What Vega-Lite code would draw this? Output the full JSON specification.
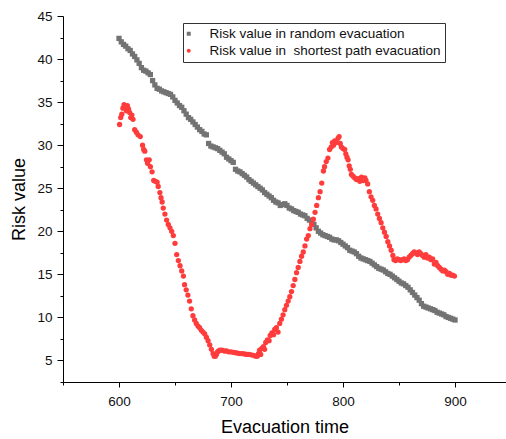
{
  "$schema": "https://vega.github.io/schema/vega-lite/v6.json",
  "autosize": "none",
  "width": 443,
  "height": 366,
  "padding": {"left": 63, "top": 16, "right": 0, "bottom": 57},
  "background": "white",
  "config": {"view": {"stroke": null}, "font": "Liberation Sans"},
  "data": {"values": [
    {"t":600,"v":42.4,"s":"random"},{"t":602,"v":42.0,"s":"random"},{"t":604,"v":41.7,"s":"random"},{"t":606,"v":41.5,"s":"random"},{"t":608,"v":41.2,"s":"random"},{"t":610,"v":41.0,"s":"random"},{"t":612,"v":40.6,"s":"random"},{"t":614,"v":40.3,"s":"random"},{"t":616,"v":39.9,"s":"random"},{"t":618,"v":39.5,"s":"random"},{"t":620,"v":39.0,"s":"random"},{"t":622,"v":38.7,"s":"random"},{"t":624,"v":38.6,"s":"random"},{"t":626,"v":38.4,"s":"random"},{"t":628,"v":38.2,"s":"random"},{"t":630,"v":37.5,"s":"random"},{"t":632,"v":37.0,"s":"random"},{"t":634,"v":36.6,"s":"random"},{"t":636,"v":36.5,"s":"random"},{"t":638,"v":36.3,"s":"random"},{"t":640,"v":36.2,"s":"random"},{"t":642,"v":36.1,"s":"random"},{"t":644,"v":36.0,"s":"random"},{"t":646,"v":35.9,"s":"random"},{"t":648,"v":35.6,"s":"random"},{"t":650,"v":35.2,"s":"random"},{"t":652,"v":34.9,"s":"random"},{"t":654,"v":34.6,"s":"random"},{"t":656,"v":34.4,"s":"random"},{"t":658,"v":34.0,"s":"random"},{"t":660,"v":33.6,"s":"random"},{"t":662,"v":33.2,"s":"random"},{"t":664,"v":33.0,"s":"random"},{"t":666,"v":32.7,"s":"random"},{"t":668,"v":32.4,"s":"random"},{"t":670,"v":32.1,"s":"random"},{"t":672,"v":31.8,"s":"random"},{"t":674,"v":31.6,"s":"random"},{"t":676,"v":31.3,"s":"random"},{"t":678,"v":31.2,"s":"random"},{"t":680,"v":30.2,"s":"random"},{"t":682,"v":29.9,"s":"random"},{"t":684,"v":29.8,"s":"random"},{"t":686,"v":29.7,"s":"random"},{"t":688,"v":29.6,"s":"random"},{"t":690,"v":29.4,"s":"random"},{"t":692,"v":29.2,"s":"random"},{"t":694,"v":29.0,"s":"random"},{"t":696,"v":28.6,"s":"random"},{"t":698,"v":28.4,"s":"random"},{"t":700,"v":28.2,"s":"random"},{"t":702,"v":28.0,"s":"random"},{"t":704,"v":27.2,"s":"random"},{"t":706,"v":27.0,"s":"random"},{"t":708,"v":26.9,"s":"random"},{"t":710,"v":26.7,"s":"random"},{"t":712,"v":26.5,"s":"random"},{"t":714,"v":26.3,"s":"random"},{"t":716,"v":26.0,"s":"random"},{"t":718,"v":25.8,"s":"random"},{"t":720,"v":25.6,"s":"random"},{"t":722,"v":25.4,"s":"random"},{"t":724,"v":25.2,"s":"random"},{"t":726,"v":25.0,"s":"random"},{"t":728,"v":24.8,"s":"random"},{"t":730,"v":24.5,"s":"random"},{"t":732,"v":24.3,"s":"random"},{"t":734,"v":24.1,"s":"random"},{"t":736,"v":23.9,"s":"random"},{"t":738,"v":23.6,"s":"random"},{"t":740,"v":23.4,"s":"random"},{"t":742,"v":23.3,"s":"random"},{"t":744,"v":23.0,"s":"random"},{"t":746,"v":23.1,"s":"random"},{"t":748,"v":23.2,"s":"random"},{"t":750,"v":23.0,"s":"random"},{"t":752,"v":22.7,"s":"random"},{"t":754,"v":22.6,"s":"random"},{"t":756,"v":22.4,"s":"random"},{"t":758,"v":22.3,"s":"random"},{"t":760,"v":22.2,"s":"random"},{"t":762,"v":22.0,"s":"random"},{"t":764,"v":21.9,"s":"random"},{"t":766,"v":21.8,"s":"random"},{"t":768,"v":21.5,"s":"random"},{"t":770,"v":21.3,"s":"random"},{"t":772,"v":21.1,"s":"random"},{"t":774,"v":20.8,"s":"random"},{"t":776,"v":20.4,"s":"random"},{"t":778,"v":20.0,"s":"random"},{"t":780,"v":19.8,"s":"random"},{"t":782,"v":19.6,"s":"random"},{"t":784,"v":19.5,"s":"random"},{"t":786,"v":19.4,"s":"random"},{"t":788,"v":19.3,"s":"random"},{"t":790,"v":19.1,"s":"random"},{"t":792,"v":19.0,"s":"random"},{"t":794,"v":19.0,"s":"random"},{"t":796,"v":18.9,"s":"random"},{"t":798,"v":18.7,"s":"random"},{"t":800,"v":18.5,"s":"random"},{"t":802,"v":18.3,"s":"random"},{"t":804,"v":18.1,"s":"random"},{"t":806,"v":17.8,"s":"random"},{"t":808,"v":17.7,"s":"random"},{"t":810,"v":17.6,"s":"random"},{"t":812,"v":17.4,"s":"random"},{"t":814,"v":17.1,"s":"random"},{"t":816,"v":16.9,"s":"random"},{"t":818,"v":16.8,"s":"random"},{"t":820,"v":16.7,"s":"random"},{"t":822,"v":16.6,"s":"random"},{"t":824,"v":16.5,"s":"random"},{"t":826,"v":16.3,"s":"random"},{"t":828,"v":16.1,"s":"random"},{"t":830,"v":15.9,"s":"random"},{"t":832,"v":15.7,"s":"random"},{"t":834,"v":15.6,"s":"random"},{"t":836,"v":15.5,"s":"random"},{"t":838,"v":15.3,"s":"random"},{"t":840,"v":15.1,"s":"random"},{"t":842,"v":15.0,"s":"random"},{"t":844,"v":14.8,"s":"random"},{"t":846,"v":14.6,"s":"random"},{"t":848,"v":14.4,"s":"random"},{"t":850,"v":14.2,"s":"random"},{"t":852,"v":14.0,"s":"random"},{"t":854,"v":13.9,"s":"random"},{"t":856,"v":13.7,"s":"random"},{"t":858,"v":13.5,"s":"random"},{"t":860,"v":13.2,"s":"random"},{"t":862,"v":12.9,"s":"random"},{"t":864,"v":12.6,"s":"random"},{"t":866,"v":12.3,"s":"random"},{"t":868,"v":12.0,"s":"random"},{"t":870,"v":11.6,"s":"random"},{"t":872,"v":11.3,"s":"random"},{"t":874,"v":11.2,"s":"random"},{"t":876,"v":11.1,"s":"random"},{"t":878,"v":11.0,"s":"random"},{"t":880,"v":10.9,"s":"random"},{"t":882,"v":10.8,"s":"random"},{"t":884,"v":10.6,"s":"random"},{"t":886,"v":10.5,"s":"random"},{"t":888,"v":10.4,"s":"random"},{"t":890,"v":10.3,"s":"random"},{"t":892,"v":10.1,"s":"random"},{"t":894,"v":10.0,"s":"random"},{"t":896,"v":9.9,"s":"random"},{"t":898,"v":9.8,"s":"random"},{"t":900,"v":9.7,"s":"random"},
    {"t":600.5,"v":32.4,"s":"shortest"},{"t":601.5,"v":33.2,"s":"shortest"},{"t":602.5,"v":33.6,"s":"shortest"},{"t":603.5,"v":34.3,"s":"shortest"},{"t":604.5,"v":34.7,"s":"shortest"},{"t":605.5,"v":34.5,"s":"shortest"},{"t":606.5,"v":34.0,"s":"shortest"},{"t":607.5,"v":34.6,"s":"shortest"},{"t":608.5,"v":34.2,"s":"shortest"},{"t":609.5,"v":33.8,"s":"shortest"},{"t":610.5,"v":33.2,"s":"shortest"},{"t":611.5,"v":33.5,"s":"shortest"},{"t":612.5,"v":33.0,"s":"shortest"},{"t":614,"v":31.8,"s":"shortest"},{"t":615.5,"v":31.5,"s":"shortest"},{"t":617,"v":31.2,"s":"shortest"},{"t":619,"v":31.0,"s":"shortest"},{"t":621,"v":30.0,"s":"shortest"},{"t":622,"v":29.5,"s":"shortest"},{"t":623,"v":29.3,"s":"shortest"},{"t":624.5,"v":28.3,"s":"shortest"},{"t":625.5,"v":27.9,"s":"shortest"},{"t":627,"v":28.3,"s":"shortest"},{"t":628,"v":27.5,"s":"shortest"},{"t":629.5,"v":26.9,"s":"shortest"},{"t":631,"v":25.9,"s":"shortest"},{"t":632.5,"v":25.8,"s":"shortest"},{"t":634,"v":25.7,"s":"shortest"},{"t":635,"v":25.2,"s":"shortest"},{"t":636.5,"v":24.5,"s":"shortest"},{"t":637.5,"v":23.9,"s":"shortest"},{"t":638.5,"v":23.4,"s":"shortest"},{"t":639.5,"v":22.7,"s":"shortest"},{"t":641,"v":22.0,"s":"shortest"},{"t":642.5,"v":21.3,"s":"shortest"},{"t":644,"v":20.8,"s":"shortest"},{"t":645.5,"v":20.4,"s":"shortest"},{"t":647,"v":20.0,"s":"shortest"},{"t":648.5,"v":19.5,"s":"shortest"},{"t":650,"v":18.6,"s":"shortest"},{"t":651.5,"v":17.3,"s":"shortest"},{"t":653,"v":16.6,"s":"shortest"},{"t":654.5,"v":16.0,"s":"shortest"},{"t":656,"v":15.4,"s":"shortest"},{"t":657.5,"v":14.8,"s":"shortest"},{"t":658.5,"v":13.8,"s":"shortest"},{"t":660,"v":13.2,"s":"shortest"},{"t":661.5,"v":12.6,"s":"shortest"},{"t":663,"v":11.9,"s":"shortest"},{"t":664.5,"v":11.0,"s":"shortest"},{"t":666,"v":10.2,"s":"shortest"},{"t":667.5,"v":9.7,"s":"shortest"},{"t":669,"v":9.3,"s":"shortest"},{"t":670.5,"v":9.0,"s":"shortest"},{"t":672,"v":8.8,"s":"shortest"},{"t":673.5,"v":8.5,"s":"shortest"},{"t":675,"v":8.3,"s":"shortest"},{"t":676.5,"v":8.1,"s":"shortest"},{"t":678,"v":7.7,"s":"shortest"},{"t":679.5,"v":7.3,"s":"shortest"},{"t":681,"v":6.8,"s":"shortest"},{"t":682.5,"v":6.3,"s":"shortest"},{"t":684,"v":5.8,"s":"shortest"},{"t":685,"v":5.5,"s":"shortest"},{"t":686,"v":5.5,"s":"shortest"},{"t":687,"v":5.7,"s":"shortest"},{"t":688,"v":6.0,"s":"shortest"},{"t":689,"v":6.1,"s":"shortest"},{"t":690,"v":6.2,"s":"shortest"},{"t":692,"v":6.2,"s":"shortest"},{"t":694,"v":6.1,"s":"shortest"},{"t":696,"v":6.1,"s":"shortest"},{"t":698,"v":6.0,"s":"shortest"},{"t":700,"v":6.0,"s":"shortest"},{"t":702,"v":5.95,"s":"shortest"},{"t":704,"v":5.9,"s":"shortest"},{"t":706,"v":5.85,"s":"shortest"},{"t":708,"v":5.8,"s":"shortest"},{"t":710,"v":5.8,"s":"shortest"},{"t":712,"v":5.75,"s":"shortest"},{"t":714,"v":5.7,"s":"shortest"},{"t":716,"v":5.7,"s":"shortest"},{"t":718,"v":5.65,"s":"shortest"},{"t":720,"v":5.6,"s":"shortest"},{"t":722,"v":5.5,"s":"shortest"},{"t":723.5,"v":5.5,"s":"shortest"},{"t":724.5,"v":5.8,"s":"shortest"},{"t":725.5,"v":6.2,"s":"shortest"},{"t":726.5,"v":5.7,"s":"shortest"},{"t":727.5,"v":6.4,"s":"shortest"},{"t":729,"v":6.6,"s":"shortest"},{"t":730,"v":6.3,"s":"shortest"},{"t":731,"v":7.1,"s":"shortest"},{"t":732.5,"v":7.4,"s":"shortest"},{"t":734,"v":7.3,"s":"shortest"},{"t":735,"v":7.9,"s":"shortest"},{"t":736.5,"v":8.2,"s":"shortest"},{"t":738,"v":8.0,"s":"shortest"},{"t":739,"v":8.6,"s":"shortest"},{"t":740.5,"v":8.8,"s":"shortest"},{"t":742,"v":8.3,"s":"shortest"},{"t":743.5,"v":9.3,"s":"shortest"},{"t":745,"v":9.8,"s":"shortest"},{"t":746.5,"v":10.3,"s":"shortest"},{"t":748,"v":10.9,"s":"shortest"},{"t":749.5,"v":11.4,"s":"shortest"},{"t":751,"v":11.9,"s":"shortest"},{"t":752.5,"v":12.4,"s":"shortest"},{"t":754,"v":13.0,"s":"shortest"},{"t":755.5,"v":13.7,"s":"shortest"},{"t":757,"v":14.4,"s":"shortest"},{"t":758.5,"v":15.2,"s":"shortest"},{"t":760,"v":15.8,"s":"shortest"},{"t":761.5,"v":16.5,"s":"shortest"},{"t":763,"v":17.1,"s":"shortest"},{"t":764.5,"v":17.6,"s":"shortest"},{"t":766,"v":18.3,"s":"shortest"},{"t":767.5,"v":19.1,"s":"shortest"},{"t":769,"v":19.5,"s":"shortest"},{"t":770.5,"v":20.3,"s":"shortest"},{"t":772,"v":20.8,"s":"shortest"},{"t":773.5,"v":21.4,"s":"shortest"},{"t":775,"v":22.2,"s":"shortest"},{"t":776.5,"v":23.0,"s":"shortest"},{"t":778,"v":23.9,"s":"shortest"},{"t":779.5,"v":24.6,"s":"shortest"},{"t":781,"v":25.6,"s":"shortest"},{"t":782.5,"v":27.0,"s":"shortest"},{"t":783.5,"v":27.5,"s":"shortest"},{"t":785,"v":28.1,"s":"shortest"},{"t":786.5,"v":28.5,"s":"shortest"},{"t":788,"v":29.5,"s":"shortest"},{"t":789.5,"v":29.8,"s":"shortest"},{"t":790.5,"v":30.3,"s":"shortest"},{"t":791.5,"v":30.0,"s":"shortest"},{"t":792.5,"v":30.5,"s":"shortest"},{"t":794,"v":30.3,"s":"shortest"},{"t":795.5,"v":30.8,"s":"shortest"},{"t":796.5,"v":31.0,"s":"shortest"},{"t":797.5,"v":30.2,"s":"shortest"},{"t":798.5,"v":29.8,"s":"shortest"},{"t":800,"v":29.6,"s":"shortest"},{"t":801.5,"v":29.5,"s":"shortest"},{"t":802.5,"v":29.0,"s":"shortest"},{"t":803.5,"v":28.6,"s":"shortest"},{"t":804.5,"v":28.3,"s":"shortest"},{"t":805.5,"v":27.6,"s":"shortest"},{"t":806.5,"v":27.2,"s":"shortest"},{"t":807.5,"v":26.6,"s":"shortest"},{"t":809,"v":26.4,"s":"shortest"},{"t":810.5,"v":26.2,"s":"shortest"},{"t":812,"v":26.0,"s":"shortest"},{"t":813.5,"v":26.1,"s":"shortest"},{"t":815,"v":25.8,"s":"shortest"},{"t":816.5,"v":26.3,"s":"shortest"},{"t":818,"v":25.9,"s":"shortest"},{"t":819.5,"v":26.2,"s":"shortest"},{"t":820.5,"v":25.9,"s":"shortest"},{"t":822,"v":25.5,"s":"shortest"},{"t":823.5,"v":24.6,"s":"shortest"},{"t":825,"v":24.0,"s":"shortest"},{"t":826.5,"v":23.6,"s":"shortest"},{"t":828,"v":23.0,"s":"shortest"},{"t":829.5,"v":22.6,"s":"shortest"},{"t":831,"v":22.0,"s":"shortest"},{"t":832.5,"v":21.5,"s":"shortest"},{"t":834,"v":21.0,"s":"shortest"},{"t":835.5,"v":20.4,"s":"shortest"},{"t":837,"v":19.9,"s":"shortest"},{"t":838.5,"v":19.4,"s":"shortest"},{"t":840,"v":18.8,"s":"shortest"},{"t":841.5,"v":18.3,"s":"shortest"},{"t":843,"v":17.8,"s":"shortest"},{"t":844.5,"v":17.2,"s":"shortest"},{"t":845.5,"v":16.7,"s":"shortest"},{"t":847,"v":16.6,"s":"shortest"},{"t":848.5,"v":16.8,"s":"shortest"},{"t":850,"v":16.7,"s":"shortest"},{"t":851.5,"v":16.6,"s":"shortest"},{"t":853,"v":16.7,"s":"shortest"},{"t":854.5,"v":16.8,"s":"shortest"},{"t":856,"v":16.6,"s":"shortest"},{"t":857.5,"v":16.7,"s":"shortest"},{"t":859,"v":17.0,"s":"shortest"},{"t":860.5,"v":17.2,"s":"shortest"},{"t":862,"v":17.4,"s":"shortest"},{"t":863.5,"v":17.6,"s":"shortest"},{"t":865,"v":17.5,"s":"shortest"},{"t":866.5,"v":17.3,"s":"shortest"},{"t":868,"v":17.6,"s":"shortest"},{"t":869.5,"v":17.4,"s":"shortest"},{"t":871,"v":17.2,"s":"shortest"},{"t":872.5,"v":17.0,"s":"shortest"},{"t":874,"v":17.3,"s":"shortest"},{"t":875.5,"v":16.9,"s":"shortest"},{"t":877,"v":17.0,"s":"shortest"},{"t":878.5,"v":16.7,"s":"shortest"},{"t":880,"v":16.8,"s":"shortest"},{"t":881.5,"v":16.2,"s":"shortest"},{"t":883,"v":16.4,"s":"shortest"},{"t":884.5,"v":16.0,"s":"shortest"},{"t":886,"v":15.8,"s":"shortest"},{"t":887.5,"v":15.6,"s":"shortest"},{"t":889,"v":15.4,"s":"shortest"},{"t":890.5,"v":15.5,"s":"shortest"},{"t":892,"v":15.3,"s":"shortest"},{"t":893.5,"v":15.0,"s":"shortest"},{"t":895,"v":15.1,"s":"shortest"},{"t":896.5,"v":14.9,"s":"shortest"},{"t":898,"v":14.9,"s":"shortest"},{"t":899.5,"v":14.8,"s":"shortest"}
  ]},
  "mark": {"type": "point", "filled": true, "opacity": 1, "size": 28},
  "encoding": {
    "x": {
      "field": "t", "type": "quantitative",
      "scale": {"domain": [550, 945.5], "nice": false, "zero": false},
      "axis": {
        "title": "Evacuation time",
        "values": [550, 600, 650, 700, 750, 800, 850, 900],
        "labelExpr": "datum.value % 100 == 0 ? datum.label : ''",
        "grid": false,
        "domainColor": "#000", "domainWidth": 1,
        "tickColor": "#000", "tickWidth": 1,
        "tickSize": {"condition": {"test": "datum.value % 100 == 0", "value": 5}, "value": 3},
        "labelFont": "Liberation Sans", "labelFontSize": 13.5, "labelColor": "#111", "labelPadding": 7,
        "titleFont": "Liberation Sans", "titleFontSize": 18, "titleFontWeight": "normal", "titleColor": "#000", "titlePadding": 11
      }
    },
    "y": {
      "field": "v", "type": "quantitative",
      "scale": {"domain": [2.5, 45], "nice": false, "zero": false},
      "axis": {
        "title": "Risk value",
        "values": [2.5, 5, 7.5, 10, 12.5, 15, 17.5, 20, 22.5, 25, 27.5, 30, 32.5, 35, 37.5, 40, 42.5, 45],
        "labelExpr": "datum.value % 5 == 0 ? datum.label : ''",
        "grid": false,
        "domainColor": "#000", "domainWidth": 1,
        "tickColor": "#000", "tickWidth": 1,
        "tickSize": {"condition": {"test": "datum.value % 5 == 0", "value": 6}, "value": 3},
        "labelFont": "Liberation Sans", "labelFontSize": 13.5, "labelColor": "#111", "labelPadding": 5,
        "titleFont": "Liberation Sans", "titleFontSize": 18, "titleFontWeight": "normal", "titleColor": "#000", "titlePadding": 8
      }
    },
    "color": {
      "field": "s", "type": "nominal",
      "scale": {"domain": ["random", "shortest"], "range": ["#737373", "#ff3c3c"]},
      "legend": {
        "orient": "none", "legendX": 120, "legendY": 7, "title": null,
        "labelExpr": "datum.label == 'random' ? 'Risk value in random evacuation' : 'Risk value in\u00a0 shortest path evacuation'",
        "labelFont": "Liberation Sans", "labelFontSize": 13.5, "labelColor": "#111", "labelOffset": 14, "labelLimit": 0,
        "strokeColor": "#333", "fillColor": "white", "padding": 4, "rowPadding": 2,
        "symbolSize": 16, "symbolOffset": -5, "symbolStrokeWidth": 0
      }
    },
    "shape": {
      "field": "s", "type": "nominal",
      "scale": {"domain": ["random", "shortest"], "range": ["square", "circle"]},
      "legend": null
    }
  }
}
